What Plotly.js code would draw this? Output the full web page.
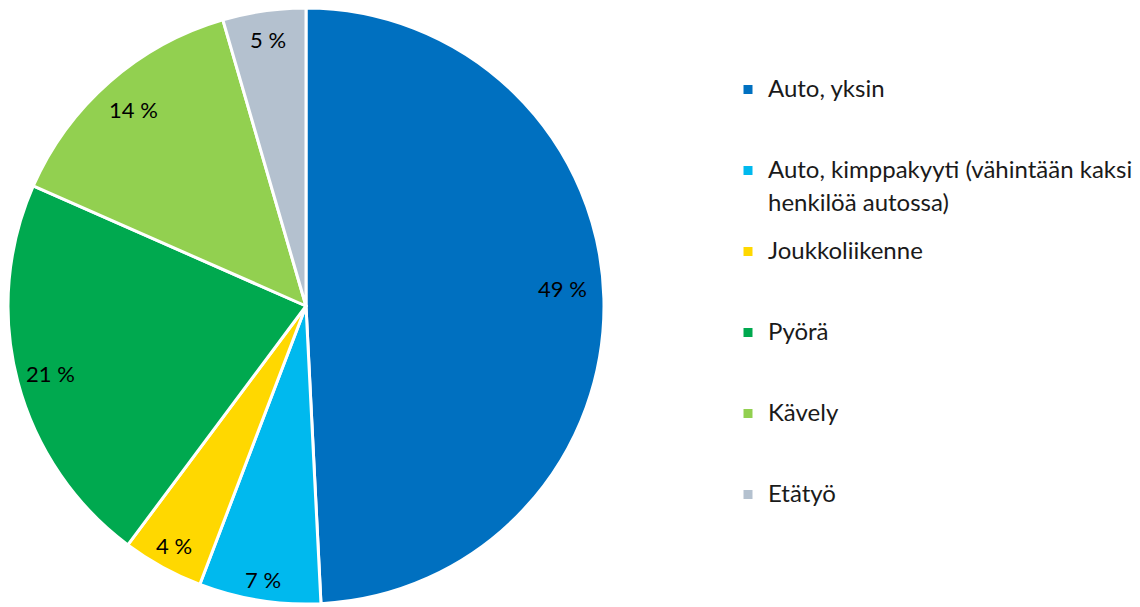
<!DOCTYPE html>
<html>
<head>
<meta charset="utf-8">
<script src="https://cdn.plot.ly/plotly-3.0.1.min.js"></script>
<style>html,body{margin:0;padding:0;background:#fff;}#chart{width:1140px;height:607px;}</style>
</head>
<body>
<div id="chart"></div>
<script>
const categories = ["Auto, yksin", "Auto, kimppakyyti (vähintään kaksi<br>henkilöä autossa)", "Joukkoliikenne", "Pyörä", "Kävely", "Etätyö"];
const values = [49.2, 6.6, 4.4, 21.4, 13.9, 4.5];
const colors = ["#0070C0", "#00B9EE", "#FFD800", "#00A94F", "#92D050", "#B4C1CF"];

const W = 1140, H = 607;
const cx = 306, cyTop = 306, R = 298;
const padLines = [2, 1, 2, 2, 2, 0];
const legendLabels = categories.map((c, i) =>
  c.split("<br>").map((s, j) => '<span style="font-size:24px' + (j > 0 ? ';baseline-shift:-7px' : '') + '">' + s + '</span>').join("<br>") + "<br> ".repeat(padLines[i]));
const labelRadius = [0.864, 0.93, 0.917, 0.888, 0.877, 0.902];
const labelAngleNudge = [-2.5, 0, 0, 0, 0, 0];

const total = values.reduce((a, b) => a + b, 0);
let cum = 0;
const annotations = values.map((v, i) => {
  const mid = ((cum + v / 2) / total * 360 + labelAngleNudge[i]) * Math.PI / 180;
  cum += v;
  const rr = labelRadius[i] * R;
  const px = cx + rr * Math.sin(mid);
  const py = cyTop - rr * Math.cos(mid);
  return {
    x: px / W, y: 1 - py / H, xref: "paper", yref: "paper",
    text: Math.round(v / total * 100) + " %", showarrow: false,
    font: {family: "Lato, 'Open Sans', sans-serif", size: 22, color: "#000"},
    xanchor: "center", yanchor: "middle"
  };
});

const trace = {
  type: "pie",
  labels: legendLabels,
  values: values,
  sort: false,
  direction: "clockwise",
  rotation: 0,
  textinfo: "none",
  marker: {colors: colors, line: {color: "#ffffff", width: 3}},
  domain: {x: [(cx - R) / W, (cx + R) / W], y: [(H - cyTop - R) / H, (H - cyTop + R) / H]},
  hoverinfo: "label+percent"
};

const layout = {
  width: W, height: H,
  margin: {l: 0, r: 0, t: 0, b: 0},
  paper_bgcolor: "#fff",
  showlegend: true,
  legend: {
    x: 728 / W, xanchor: "left",
    y: 1 - 70 / H, yanchor: "top",
    valign: "top",
    font: {family: "Lato, 'Open Sans', sans-serif", size: 20, color: "#1a1a1a"},
    bgcolor: "rgba(0,0,0,0)"
  },
  annotations: annotations
};

Plotly.newPlot("chart", [trace], layout, {displayModeBar: false, staticPlot: true});
</script>
</body>
</html>
